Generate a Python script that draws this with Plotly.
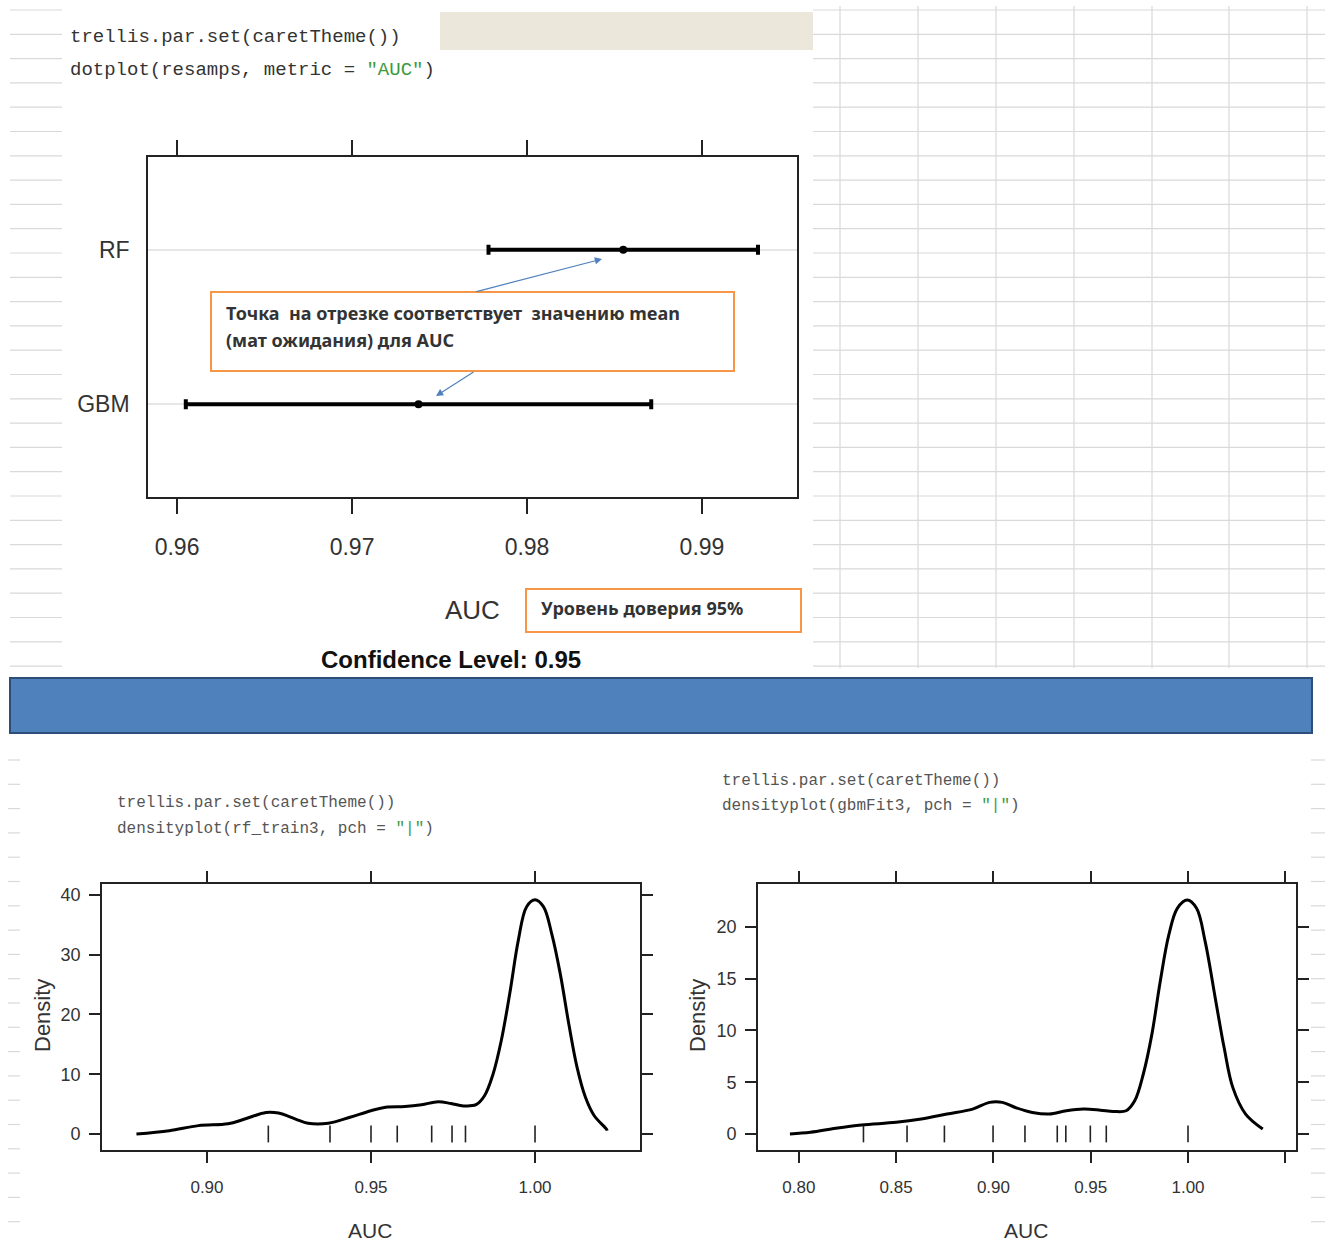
import plotly.graph_objects as go

W, H = 1325, 1245

# ---------------- data ----------------
models = ["GBM", "RF"]
model_pos = [1, 2]
auc_lower = [0.9605, 0.9778]
auc_mean = [0.9738, 0.9855]
auc_upper = [0.9871, 0.9932]
dot_ticks = [0.96, 0.97, 0.98, 0.99]
dot_ticklabels = ["0.96", "0.97", "0.98", "0.99"]

rf_x = [0.8785, 0.8885, 0.8974, 0.9064, 0.9115, 0.918, 0.9218, 0.927, 0.9308, 0.937,
        0.9436, 0.95, 0.955, 0.9603, 0.9654, 0.9705, 0.9744, 0.9782, 0.982, 0.9846,
        0.9872, 0.9897, 0.9923, 0.9949, 0.9974, 1.0, 1.0026, 1.0051, 1.0077, 1.0103,
        1.0128, 1.0154, 1.018, 1.0218, 1.022]
rf_y = [0.0, 0.56, 1.4, 1.7, 2.5, 3.6, 3.5, 2.5, 1.8, 1.8,
        2.8, 3.9, 4.5, 4.6, 4.9, 5.4, 5.1, 4.7, 4.9, 6.4,
        10.0, 15.6, 23.5, 32.4, 38.0, 39.2, 38.0, 33.5, 26.8, 18.4,
        11.2, 6.1, 3.1, 0.8, 0.56]
rf_rug = [0.9187, 0.9375, 0.95, 0.958, 0.9685, 0.9747, 0.9788, 1.0]
rf_xticks = [0.90, 0.95, 1.00]
rf_xticklabels = ["0.90", "0.95", "1.00"]
rf_yticks = [0, 10, 20, 30, 40]

gbm_x = [0.7954, 0.806, 0.819, 0.8322, 0.85, 0.8629, 0.8761, 0.8893, 0.898, 0.9046,
         0.9112, 0.92, 0.9287, 0.9375, 0.9463, 0.955, 0.9616, 0.9682, 0.9726, 0.977,
         0.9814, 0.9857, 0.9901, 0.9945, 0.9996, 1.0044, 1.0088, 1.0143, 1.0186, 1.023,
         1.0296, 1.0384]
gbm_y = [0.0, 0.16, 0.55, 0.87, 1.12, 1.44, 1.92, 2.4, 3.05, 3.05,
         2.56, 2.08, 1.92, 2.24, 2.4, 2.3, 2.18, 2.24, 3.2, 5.77,
         9.6, 14.7, 19.2, 21.8, 22.6, 21.8, 18.6, 12.8, 8.3, 4.5,
         1.92, 0.48]
gbm_rug = [0.8332, 0.8556, 0.8748, 0.8998, 0.9162, 0.9328, 0.9372, 0.9498, 0.958, 1.0]
gbm_xticks = [0.80, 0.85, 0.90, 0.95, 1.00, 1.05]
gbm_xticklabels = ["0.80", "0.85", "0.90", "0.95", "1.00", ""]
gbm_yticks = [0, 5, 10, 15, 20]

# ---------------- helpers ----------------
def fx(p):
    return p / W

def fy(p):
    return 1 - p / H

NARROW = "Liberation Sans Narrow, Arial Narrow, Liberation Sans, sans-serif"
MONO = "Liberation Mono, DejaVu Sans Mono, monospace"
BOLD = "Noto Sans, Open Sans, sans-serif"
AXC = "#222222"

fig = go.Figure()

# dotplot
fig.add_trace(go.Scatter(
    x=auc_mean, y=model_pos, mode="markers",
    marker=dict(color="black", size=8, symbol="circle"),
    error_x=dict(type="data", symmetric=False,
                 array=[u - m for u, m in zip(auc_upper, auc_mean)],
                 arrayminus=[m - l for m, l in zip(auc_mean, auc_lower)],
                 color="black", thickness=4, width=5),
    xaxis="x", yaxis="y", showlegend=False, hoverinfo="skip"))

# rf density
fig.add_trace(go.Scatter(x=rf_x, y=rf_y, mode="lines", line=dict(color="black", width=3, shape="spline"),
                         xaxis="x2", yaxis="y2", showlegend=False))
fig.add_trace(go.Scatter(x=rf_rug, y=[0] * len(rf_rug), mode="markers",
                         marker=dict(symbol="line-ns", size=12, line=dict(color="#222", width=1.6)),
                         xaxis="x2", yaxis="y2", showlegend=False))
# gbm density
fig.add_trace(go.Scatter(x=gbm_x, y=gbm_y, mode="lines", line=dict(color="black", width=3, shape="spline"),
                         xaxis="x3", yaxis="y3", showlegend=False))
fig.add_trace(go.Scatter(x=gbm_rug, y=[0] * len(gbm_rug), mode="markers",
                         marker=dict(symbol="line-ns", size=12, line=dict(color="#222", width=1.6)),
                         xaxis="x3", yaxis="y3", showlegend=False))

axis_common = dict(showline=True, linecolor=AXC, linewidth=1.6, mirror="allticks",
                   ticks="outside", tickcolor=AXC, tickwidth=1.6, zeroline=False, showgrid=False)

layout = dict(
    width=W, height=H, margin=dict(l=0, r=0, t=0, b=0),
    paper_bgcolor="white", plot_bgcolor="white", showlegend=False,
    xaxis=dict(domain=[fx(148), fx(797)], range=[0.95834, 0.99543], anchor="y",
               tickvals=dot_ticks, ticktext=dot_ticklabels, ticklen=15,
               ticklabelstandoff=14,
               tickfont=dict(family=NARROW, size=23, color="#333"), **axis_common),
    yaxis=dict(domain=[fy(497), fy(157)], range=[0.4, 2.6], anchor="x",
               tickvals=model_pos, ticktext=models, showline=True, linecolor=AXC, linewidth=1.6,
               mirror=True, ticks="", zeroline=False, showgrid=True, gridcolor="#e6e6e6", gridwidth=1.5,
               ticklabelstandoff=12,
               tickfont=dict(family=NARROW, size=23, color="#333")),
    xaxis2=dict(domain=[fx(102), fx(640)], range=[0.868, 1.032], anchor="y2",
                tickvals=rf_xticks, ticktext=rf_xticklabels, ticklen=11, ticklabelstandoff=10,
                tickfont=dict(family=NARROW, size=17, color="#333"), **axis_common),
    yaxis2=dict(domain=[fy(1150), fy(884)], range=[-2.68, 41.84], anchor="x2",
                tickvals=rf_yticks, ticklen=11, ticklabelstandoff=5,
                tickfont=dict(family=NARROW, size=18, color="#333"), **axis_common),
    xaxis3=dict(domain=[fx(758), fx(1296)], range=[0.779, 1.0555], anchor="y3",
                tickvals=gbm_xticks, ticktext=gbm_xticklabels, ticklen=11, ticklabelstandoff=10,
                tickfont=dict(family=NARROW, size=17, color="#333"), **axis_common),
    yaxis3=dict(domain=[fy(1150), fy(884)], range=[-1.55, 24.15], anchor="x3",
                tickvals=gbm_yticks, ticklen=11, ticklabelstandoff=5,
                tickfont=dict(family=NARROW, size=18, color="#333"), **axis_common),
)
fig.update_layout(**layout)

# ---------------- background decoration (spreadsheet) ----------------
GRID = "#d9d9d9"
shapes = []
row_ys = [10 + 24.3 * k for k in range(28)]
for yy in row_ys:
    shapes.append(dict(type="line", xref="paper", yref="paper", x0=fx(813), x1=1, y0=fy(yy), y1=fy(yy),
                       line=dict(color=GRID, width=1.2), layer="below"))
    shapes.append(dict(type="line", xref="paper", yref="paper", x0=fx(10), x1=fx(62), y0=fy(yy), y1=fy(yy),
                       line=dict(color=GRID, width=1.2), layer="below"))
for xx in [840, 918, 996, 1074, 1152, 1229, 1307]:
    shapes.append(dict(type="line", xref="paper", yref="paper", x0=fx(xx), x1=fx(xx), y0=fy(6), y1=fy(668),
                       line=dict(color=GRID, width=1.2), layer="below"))
for k in range(20):
    yy = 760 + 24.3 * k
    if yy > 1240:
        break
    shapes.append(dict(type="line", xref="paper", yref="paper", x0=fx(8), x1=fx(20), y0=fy(yy), y1=fy(yy),
                       line=dict(color=GRID, width=1.2), layer="below"))
    shapes.append(dict(type="line", xref="paper", yref="paper", x0=fx(1311), x1=fx(1325), y0=fy(yy), y1=fy(yy),
                       line=dict(color=GRID, width=1.2), layer="below"))
shapes.append(dict(type="rect", xref="paper", yref="paper", x0=fx(440), x1=fx(813), y0=fy(50), y1=fy(12),
                   fillcolor="#ebe7da", line=dict(width=0), layer="below"))
shapes.append(dict(type="rect", xref="paper", yref="paper", x0=fx(10), x1=fx(1312), y0=fy(733), y1=fy(678),
                   fillcolor="#4f81bd", line=dict(color="#2d4e78", width=2), layer="above"))
shapes.append(dict(type="rect", xref="paper", yref="paper", x0=fx(211), x1=fx(734), y0=fy(371), y1=fy(292),
                   fillcolor="white", line=dict(color="#f79646", width=2), layer="above"))
shapes.append(dict(type="rect", xref="paper", yref="paper", x0=fx(526), x1=fx(801), y0=fy(632), y1=fy(589),
                   fillcolor="white", line=dict(color="#f79646", width=2), layer="above"))
fig.update_layout(shapes=shapes)

# ---------------- text ----------------
ann = []

def text(x, y, s, size, family, color="#222", xanchor="left", yanchor="middle", angle=0):
    ann.append(dict(x=fx(x), y=fy(y), xref="paper", yref="paper", text=s, showarrow=False,
                    xanchor=xanchor, yanchor=yanchor, textangle=angle,
                    font=dict(size=size, family=family, color=color)))

GREEN = "#3c9a3c"
text(68, 37, "trellis.par.set(caretTheme())", 19, MONO, "#333")
text(68, 70, 'dotplot(resamps, metric = <span style="color:%s">"AUC"</span>)' % GREEN, 19, MONO, "#333")
text(115, 803, "trellis.par.set(caretTheme())", 16, MONO, "#555")
text(115, 829, 'densityplot(rf_train3, pch = <span style="color:%s">"|"</span>)' % GREEN, 16, MONO, "#555")
text(720, 781, "trellis.par.set(caretTheme())", 16, MONO, "#555")
text(720, 806, 'densityplot(gbmFit3, pch = <span style="color:%s">"|"</span>)' % GREEN, 16, MONO, "#555")

text(472, 610, "AUC", 26, NARROW, "#333", xanchor="center")
text(451, 659, "<b>Confidence Level: 0.95</b>", 24, NARROW, "#111", xanchor="center")

text(224, 313, "<b>Точка  на отрезке соответствует  значению mean</b>", 18, BOLD, "#333")
text(224, 340, "<b>(мат ожидания) для AUC</b>", 18, BOLD, "#333")
text(539, 608, "<b>Уровень доверия 95%</b>", 18, BOLD, "#333")

text(42, 1015, "Density", 22, "Liberation Sans, sans-serif", "#333", xanchor="center", angle=-90)
text(697, 1015, "Density", 22, "Liberation Sans, sans-serif", "#333", xanchor="center", angle=-90)
text(370, 1230, "AUC", 21, NARROW, "#333", xanchor="center")
text(1026, 1230, "AUC", 21, NARROW, "#333", xanchor="center")

for (hx, hy, tx, ty) in [(602, 259, 475, 292), (436, 396, 475, 371)]:
    ann.append(dict(x=fx(hx), y=fy(hy), xref="paper", yref="paper", text="", showarrow=True,
                    ax=tx - hx, ay=ty - hy, arrowhead=2, arrowsize=1.2, arrowwidth=1.2,
                    arrowcolor="#4f81bd"))

fig.update_layout(annotations=ann)

fig.write_html("out.html", config={"displayModeBar": False},
               post_script="document.body.style.margin='0';document.body.style.padding='0';")
